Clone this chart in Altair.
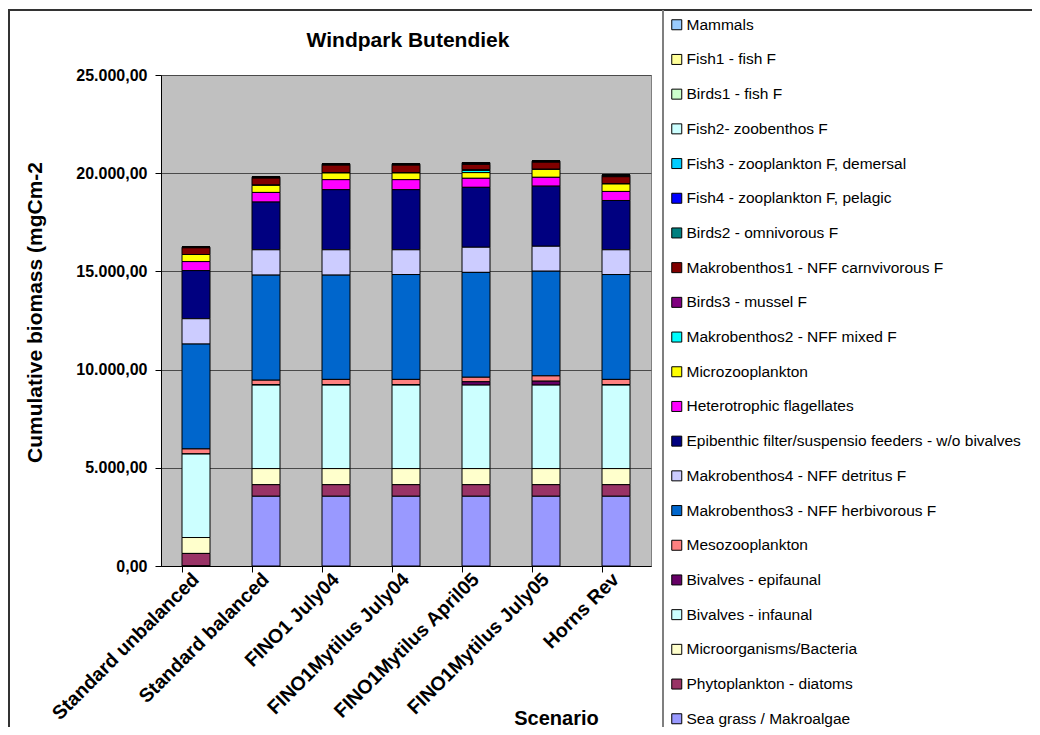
import altair as alt
import pandas as pd

scenarios = ["Standard unbalanced", "Standard balanced", "FINO1 July04",
             "FINO1Mytilus July04", "FINO1Mytilus April05",
             "FINO1Mytilus July05", "Horns Rev"]

# legend order (top of stack first)
groups = ["Mammals", "Fish1 - fish F", "Birds1 - fish F", "Fish2- zoobenthos F",
          "Fish3 - zooplankton F, demersal", "Fish4 - zooplankton F, pelagic",
          "Birds2 - omnivorous F", "Makrobenthos1 - NFF carnvivorous F",
          "Birds3 - mussel F", "Makrobenthos2 - NFF mixed F", "Microzooplankton",
          "Heterotrophic flagellates",
          "Epibenthic filter/suspensio feeders - w/o bivalves",
          "Makrobenthos4 - NFF detritus F", "Makrobenthos3 - NFF herbivorous F",
          "Mesozooplankton", "Bivalves - epifaunal", "Bivalves - infaunal",
          "Microorganisms/Bacteria", "Phytoplankton - diatoms",
          "Sea grass / Makroalgae"]

colors = ["#99CCFF", "#FFFF99", "#CCFFCC", "#CCFFFF", "#00CCFF", "#0000FF",
          "#008080", "#800000", "#800080", "#00FFFF", "#FFFF00", "#FF00FF",
          "#000080", "#CCCCFF", "#0066CC", "#FF8080", "#660066", "#CCFFFF",
          "#FFFFCC", "#993366", "#9999FF"]

# values per series (mgCm-2), one per scenario
mammals   = [0, 5, 5, 5, 5, 5, 5]
fish1     = [5, 5, 5, 5, 5, 5, 5]
birds1    = [0, 5, 5, 5, 5, 5, 5]
fish2     = [10, 10, 10, 10, 10, 10, 10]
fish3     = [10, 10, 10, 10, 10, 10, 10]
fish4     = [10, 20, 20, 20, 40, 20, 20]
birds2    = [10, 10, 10, 10, 10, 10, 40]
makro1    = [340, 360, 390, 390, 270, 360, 360]
birds3    = [0, 10, 10, 10, 40, 10, 10]
makro2    = [0, 0, 0, 0, 110, 0, 0]
microzoo  = [360, 360, 340, 340, 290, 400, 380]
hetero    = [460, 490, 510, 510, 460, 450, 460]
epibenth  = [2450, 2430, 3060, 3060, 3050, 3060, 2510]
makro4    = [1290, 1290, 1290, 1260, 1280, 1270, 1260]
makro3    = [5340, 5350, 5310, 5340, 5340, 5330, 5340]
meso      = [260, 220, 260, 260, 230, 270, 260]
biv_epi   = [0, 30, 30, 30, 170, 200, 30]
biv_inf   = [4250, 4250, 4250, 4250, 4250, 4250, 4250]
microorg  = [810, 820, 820, 820, 820, 820, 820]
phyto     = [640, 590, 590, 590, 590, 590, 590]
seagrass  = [0, 3550, 3550, 3550, 3550, 3550, 3550]

series = [mammals, fish1, birds1, fish2, fish3, fish4, birds2, makro1, birds3,
          makro2, microzoo, hetero, epibenth, makro4, makro3, meso, biv_epi,
          biv_inf, microorg, phyto, seagrass]

title_text = "Windpark Butendiek"

rows = []
n = len(groups)
for gi, (g, vals) in enumerate(zip(groups, series)):
    for s, v in zip(scenarios, vals):
        rows.append({"Scenario": s, "group": g, "value": v, "idx": n - gi})
df = pd.DataFrame(rows)

FONT = "Liberation Sans"
PW, PH = 490, 491

bars = alt.Chart(df).mark_bar(stroke="black", strokeWidth=1).encode(
    x=alt.X("Scenario:N", sort=scenarios,
            scale=alt.Scale(paddingInner=0.6, paddingOuter=0.3),
            axis=alt.Axis(title="Scenario", titleFontSize=20, titleFontWeight="bold",
                          titleFont=FONT, titleX=395, titleY=158, titleAlign="center",
                          titleBaseline="alphabetic",
                          labelAngle=-45, labelAlign="right", labelBaseline="middle",
                          labelFontSize=19.5, labelFontWeight="bold", labelFont=FONT,
                          bandPosition=0, labelPadding=4, labelLimit=400,
                          labelOverlap=False, labelColor="black",
                          tickSize=6, tickColor="black", domainColor="black",
                          grid=False)),
    y=alt.Y("value:Q", stack="zero",
            scale=alt.Scale(domain=[0, 25000], nice=False),
            axis=alt.Axis(title="Cumulative biomass (mgCm-2", titleFontSize=21,
                          titleFontWeight="bold", titleFont=FONT, titleAngle=270,
                          titleX=-126, titleY=237, titleAlign="center",
                          titleBaseline="middle",
                          values=[0, 5000, 10000, 15000, 20000, 25000],
                          labelExpr="replace(replace(replace(format(datum.value, ',.2f'), ',', '_'), '.', ','), '_', '.')",
                          labelFontSize=16, labelFontWeight="bold", labelFont=FONT,
                          labelColor="black", labelPadding=8,
                          tickSize=6, tickColor="black", domainColor="black",
                          grid=True, gridColor="#4a4a4a", gridWidth=1)),
    color=alt.Color("group:N", scale=alt.Scale(domain=groups, range=colors),
                    legend=alt.Legend(title=None, orient="none", legendX=508,
                                      legendY=-58, padding=0,
                                      symbolType="square", symbolSize=100,
                                      symbolStrokeColor="black", symbolStrokeWidth=1,
                                      labelFont=FONT, labelFontSize=15.5,
                                      labelColor="black", labelLimit=600,
                                      labelOffset=2, rowPadding=17.7)),
    order=alt.Order("idx:Q", sort="ascending"),
)

frame_data = alt.Data(values=[{"k": 1}])
title_mark = alt.Chart(frame_data).mark_text(
    fontSize=21, fontWeight="bold", font=FONT, color="black",
    align="center", baseline="alphabetic").encode(
    text=alt.value(title_text), x=alt.value(247), y=alt.value(-28))
top_line = alt.Chart(frame_data).mark_rule(color="#333333", strokeWidth=2).encode(
    x=alt.value(-153), x2=alt.value(871), y=alt.value(-65))
left_line = alt.Chart(frame_data).mark_rule(color="#333333", strokeWidth=2).encode(
    x=alt.value(-152), y=alt.value(-65), y2=alt.value(652))
legend_line = alt.Chart(frame_data).mark_rule(color="#7f7f7f", strokeWidth=2).encode(
    x=alt.value(502), y=alt.value(-65), y2=alt.value(652))

chart = alt.layer(bars, title_mark, top_line, left_line, legend_line).properties(
    width=PW, height=PH,
    autosize=alt.AutoSizeParams(type="none"),
    padding={"left": 153, "top": 67, "right": 381, "bottom": 161},
).configure_view(fill="#C0C0C0", stroke="#808080", strokeWidth=1)

chart.save("out.html", embed_options={"renderer": "svg", "actions": False})
